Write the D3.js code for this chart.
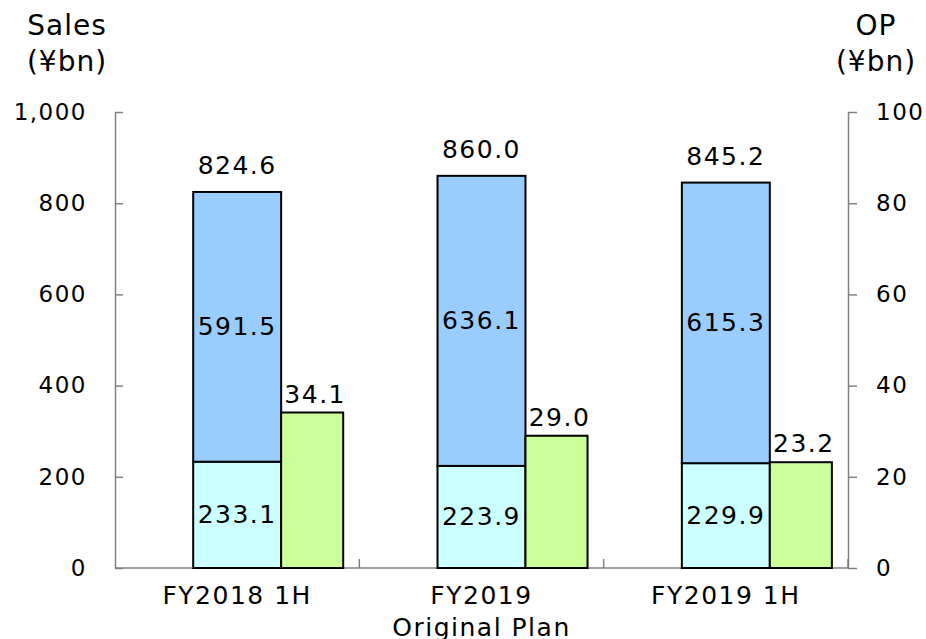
<!DOCTYPE html>
<html>
<head>
<meta charset="utf-8">
<script src="https://cdn.jsdelivr.net/npm/d3@7"></script>
<style>
  body { margin: 0; background: #fff; }
  svg text { font-family: Verdana, "DejaVu Sans", sans-serif; fill: #000; }
</style>
</head>
<body>
<div class="chart"></div>
<script>
var categories = ["FY2018 1H", "FY2019|Original Plan", "FY2019 1H"];
var salesBottom = [233.1, 223.9, 229.9];
var salesTop = [591.5, 636.1, 615.3];
var salesTotal = [824.6, 860.0, 845.2];
var op = [34.1, 29.0, 23.2];
var salesTicks = [0, 200, 400, 600, 800, 1000];
var opTicks = [0, 20, 40, 60, 80, 100];

var width = 926, height = 639;
var plotL = 115, plotR = 848, plotT = 112, plotB = 568;

var svg = d3.select(".chart").append("svg")
    .attr("width", width)
    .attr("height", height);

var x = d3.scaleBand().domain(categories).range([plotL, plotR]).padding(0);
var yL = d3.scaleLinear().domain([0, 1000]).range([plotB, plotT]);
var yR = d3.scaleLinear().domain([0, 100]).range([plotB, plotT]);

var bw = x.bandwidth();
var salesX = function(i) { return x(categories[i]) + bw * 0.32; };
var salesW = bw * 0.36;
var opX = function(i) { return salesX(i) + salesW; };
var opW = bw * 0.254;

// axes
var gL = svg.append("g")
    .attr("transform", "translate(" + plotL + ",0)")
    .call(d3.axisLeft(yL).tickValues(salesTicks).tickSizeInner(-8).tickSizeOuter(0)
        .tickPadding(28).tickFormat(d3.format(",")));
var gR = svg.append("g")
    .attr("transform", "translate(" + plotR + ",0)")
    .call(d3.axisRight(yR).tickValues(opTicks).tickSizeInner(9).tickSizeOuter(0)
        .tickPadding(19));
[gL, gR].forEach(function(g) {
    g.attr("font-family", null).attr("font-size", null);
    g.select(".domain").attr("stroke", "#808080").attr("stroke-width", 1.5);
    g.selectAll(".tick line").attr("stroke", "#808080").attr("stroke-width", 1.5);
    g.selectAll(".tick text").style("font-size", "23px").style("letter-spacing", "1.5px");
});

svg.append("line")
    .attr("x1", plotL).attr("x2", plotR)
    .attr("y1", plotB).attr("y2", plotB)
    .attr("stroke", "#808080").attr("stroke-width", 1.5);
svg.selectAll(".sep")
    .data(categories)
    .enter().append("line")
    .attr("class", "sep")
    .attr("x1", function(d) { return x(d) + bw; })
    .attr("x2", function(d) { return x(d) + bw; })
    .attr("y1", plotB).attr("y2", plotB - 9)
    .attr("stroke", "#808080").attr("stroke-width", 1.5);

// bars
var idx = d3.range(categories.length);
svg.selectAll(".bot").data(idx).enter().append("rect")
    .attr("x", salesX).attr("width", salesW)
    .attr("y", function(i) { return yL(salesBottom[i]); })
    .attr("height", function(i) { return yL(0) - yL(salesBottom[i]); })
    .attr("fill", "#ccffff").attr("stroke", "#000").attr("stroke-width", 2);
svg.selectAll(".top").data(idx).enter().append("rect")
    .attr("x", salesX).attr("width", salesW)
    .attr("y", function(i) { return yL(salesBottom[i] + salesTop[i]); })
    .attr("height", function(i) { return yL(salesBottom[i]) - yL(salesBottom[i] + salesTop[i]); })
    .attr("fill", "#99ccff").attr("stroke", "#000").attr("stroke-width", 2);
svg.selectAll(".op").data(idx).enter().append("rect")
    .attr("x", opX).attr("width", opW)
    .attr("y", function(i) { return yR(op[i]); })
    .attr("height", function(i) { return yR(0) - yR(op[i]); })
    .attr("fill", "#ccff99").attr("stroke", "#000").attr("stroke-width", 2);

// value labels
function label(xv, yv, t, base) {
    svg.append("text")
        .attr("x", xv).attr("y", yv)
        .attr("text-anchor", "middle")
        .attr("dominant-baseline", base || "auto")
        .style("font-size", "25px").style("letter-spacing", "1.5px")
        .text(t);
}
idx.forEach(function(i) {
    var cx = salesX(i) + salesW / 2;
    label(cx, yL(salesBottom[i] / 2), salesBottom[i].toFixed(1), "central");
    label(cx, yL(salesBottom[i] + salesTop[i] / 2), salesTop[i].toFixed(1), "central");
    label(cx, yL(salesTotal[i]) - 18, salesTotal[i].toFixed(1));
    label(opX(i) + opW / 2 + 3, yR(op[i]) - 10, op[i].toFixed(1));
});

// category labels
categories.forEach(function(c) {
    var t = svg.append("text")
        .attr("x", x(c) + bw / 2)
        .attr("y", 604)
        .attr("text-anchor", "middle")
        .style("font-size", "25px").style("letter-spacing", "1.5px");
    c.split("|").forEach(function(line, j) {
        t.append("tspan").attr("x", x(c) + bw / 2).attr("dy", j ? 32 : 0).text(line);
    });
});

// axis titles
function title(xv, lines) {
    lines.forEach(function(s, j) {
        svg.append("text")
            .attr("x", xv).attr("y", 35 + j * 36)
            .attr("text-anchor", "middle")
            .style("font-size", "28px").style("letter-spacing", "1px")
            .text(s);
    });
}
title(67, ["Sales", "(¥bn)"]);
title(876, ["OP", "(¥bn)"]);
</script>
</body>
</html>
